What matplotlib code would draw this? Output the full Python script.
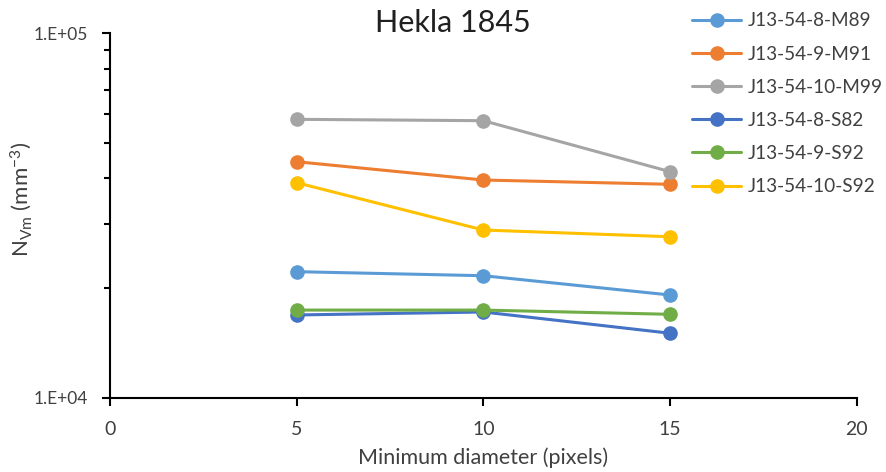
import matplotlib
matplotlib.use("Agg")
import matplotlib.pyplot as plt
from matplotlib.ticker import FixedLocator, LogLocator, NullFormatter, FixedFormatter

plt.rcParams['font.family'] = ['Lato', 'DejaVu Sans']
plt.rcParams['mathtext.fontset'] = 'custom'
plt.rcParams['mathtext.rm'] = 'Lato'
plt.rcParams['mathtext.it'] = 'Lato:italic'

# Minimum bubble diameter thresholds (pixels)
min_diameter = [5, 10, 15]

# Number density N_Vm (mm^-3) per sample
series_names = ["J13-54-8-M89", "J13-54-9-M91", "J13-54-10-M99",
                "J13-54-8-S82", "J13-54-9-S92", "J13-54-10-S92"]
m89 = [22180, 21620, 19140]
m91 = [44440, 39590, 38530]
m99 = [58100, 57600, 41730]
s82 = [16870, 17190, 15030]
s92_9 = [17400, 17400, 16940]
s92_10 = [38920, 28860, 27660]
series_values = [m89, m91, m99, s82, s92_9, s92_10]
series_colors = ["#5B9BD5", "#ED7D31", "#A5A5A5", "#4472C4", "#70AD47", "#FFC000"]

fig = plt.figure(figsize=(8.87, 4.72), dpi=100)
ax = fig.add_axes([0.124, 0.1574, 0.842, 0.7718])

for name, vals, col in zip(series_names, series_values, series_colors):
    ax.plot(min_diameter, vals, color=col, lw=2.2, marker='o', ms=9.5,
            label=name, solid_capstyle='round')

ax.set_yscale('log')
ax.set_ylim(1e4, 1e5)
ax.set_xlim(0, 20)
ax.xaxis.set_major_locator(FixedLocator([0, 5, 10, 15, 20]))
ax.yaxis.set_major_locator(FixedLocator([1e4, 1e5]))
ax.yaxis.set_major_formatter(FixedFormatter(["1.E+04", "1.E+05"]))
ax.yaxis.set_minor_locator(LogLocator(base=10, subs=range(2, 10)))
ax.yaxis.set_minor_formatter(NullFormatter())

for side in ('top', 'right'):
    ax.spines[side].set_visible(False)
for side in ('left', 'bottom'):
    ax.spines[side].set_linewidth(1.5)
    ax.spines[side].set_color('black')

ax.tick_params(axis='both', which='major', direction='out', length=5.5,
               width=1.5, colors='black', labelcolor='#404040')
ax.tick_params(axis='y', which='major', labelsize=12.5, pad=10)
ax.tick_params(axis='x', which='major', labelsize=14, pad=11)
ax.tick_params(axis='y', which='minor', direction='out', length=4, width=1.5)

ax.set_xlabel("Minimum diameter (pixels)", fontsize=15.5, color='#404040', labelpad=7)
ax.set_ylabel(r"N$_{\mathrm{Vm}}$ (mm$^{\mathrm{-3}}$)", fontsize=16, color='#404040')
ax.yaxis.set_label_coords(-0.102, 0.543)

fig.text(0.511, 0.952, "Hekla 1845", fontsize=22, ha='center', va='center',
         color='#202020')

ax.legend(loc='upper left', bbox_to_anchor=(0.766, 1.0), bbox_transform=fig.transFigure,
          frameon=False, fontsize=13.7, handlelength=2.6, handletextpad=0.35,
          labelspacing=0.85, labelcolor='#404040', borderaxespad=0.25)

fig.savefig("out.png", dpi=100)
